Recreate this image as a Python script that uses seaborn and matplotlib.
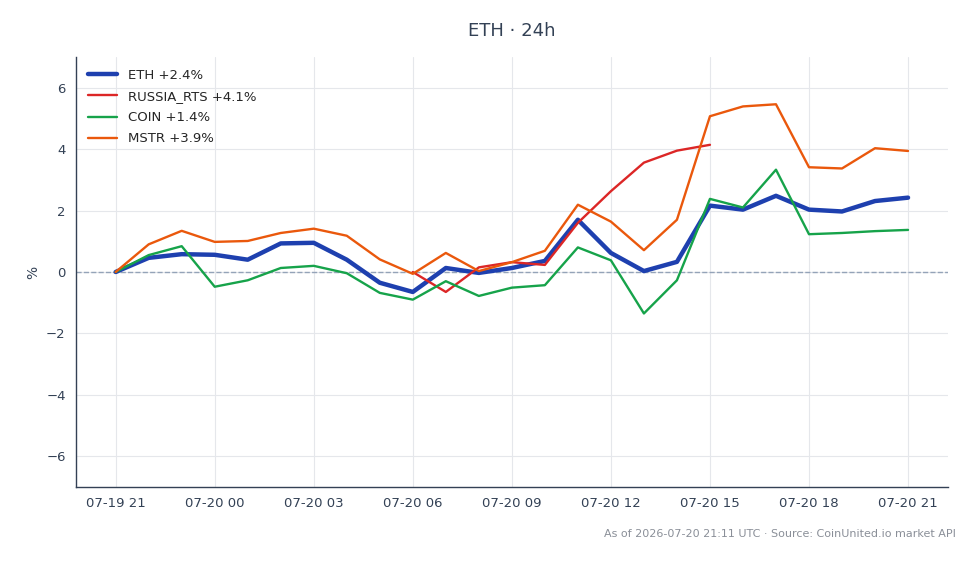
import matplotlib
matplotlib.use("Agg")
from matplotlib import pyplot as plt
import matplotlib.dates as mdates
import numpy as np
import pandas
import seaborn as sns

# hourly % change vs. first available value
hours = pandas.date_range("2026-07-19 21:00", periods=25, freq="h")
eth = [0.0, 0.46, 0.58, 0.56, 0.40, 0.93, 0.95, 0.40, -0.35, -0.65, 0.13, -0.03, 0.13,
       0.36, 1.70, 0.62, 0.03, 0.33, 2.16, 2.03, 2.48, 2.03, 1.97, 2.31, 2.42]
russia_rts = [np.nan] * 9 + [0.0, -0.65, 0.15, 0.32, 0.23, 1.60, 2.63, 3.56, 3.95, 4.14] + [np.nan] * 6
coin = [0.0, 0.55, 0.84, -0.48, -0.27, 0.13, 0.20, -0.04, -0.68, -0.90, -0.30, -0.78, -0.51,
        -0.43, 0.80, 0.38, -1.35, -0.27, 2.38, 2.10, 3.33, 1.23, 1.27, 1.33, 1.37]
mstr = [0.0, 0.90, 1.34, 0.98, 1.01, 1.27, 1.41, 1.18, 0.41, -0.06, 0.62, 0.03, 0.32,
        0.69, 2.19, 1.64, 0.71, 1.70, 5.07, 5.39, 5.46, 3.41, 3.37, 4.03, 3.94]

series = [
    ("ETH", eth, "#1e40af", 3.2),
    ("RUSSIA_RTS", russia_rts, "#dc2626", 1.7),
    ("COIN", coin, "#16a34a", 1.7),
    ("MSTR", mstr, "#ea580c", 1.7),
]

sns.set_style("whitegrid")
plt.rcParams["font.family"] = ["DejaVu Sans"]

fig = plt.figure(figsize=(9.8, 5.64), dpi=100)
ax = fig.add_axes([0.0776, 0.1365, 0.8894, 0.7625])

for (name, values, color, width) in series:
    df = pandas.DataFrame({"time": hours, "pct": values}).dropna()
    last = df["pct"].iloc[-1]
    sns.lineplot(data=df, x="time", y="pct", color=color, linewidth=width,
                 label=f"{name} {last:+.1f}%", ax=ax)

ax.axhline(0, color="#94a3b8", linestyle="--", linewidth=1, zorder=1)
ax.set_ylim(-7, 7)
ax.set_yticks([-6, -4, -2, 0, 2, 4, 6])
ax.set_yticklabels(["\u22126", "\u22124", "\u22122", "0", "2", "4", "6"])
ax.xaxis.set_major_locator(mdates.HourLocator(byhour=range(0, 24, 3)))
ax.xaxis.set_major_formatter(mdates.DateFormatter("%m-%d %H"))
ax.margins(x=0.05)

ax.grid(True, color="#e5e7eb", linewidth=0.8)
for side in ("top", "right"):
    ax.spines[side].set_visible(False)
for side in ("left", "bottom"):
    ax.spines[side].set_color("#334155")
    ax.spines[side].set_linewidth(1.0)
ax.tick_params(axis="both", colors="#334155", labelsize=9.5, length=4, width=0.8)
ax.tick_params(axis="x", pad=3)

ax.set_xlabel("")
ax.set_ylabel("%", color="#334155", fontsize=10)
ax.set_title("ETH \u00b7 24h", color="#334155", fontsize=13, pad=15)

leg = ax.legend(loc="upper left", frameon=False, fontsize=9.5, handlelength=2.2,
                labelspacing=0.62)

fig.text(0.975, 0.045, "As of 2026-07-20 21:11 UTC \u00b7 Source: CoinUnited.io market API",
         ha="right", va="bottom", fontsize=8, color="#8a8f98")

fig.savefig("out.png", dpi=100)
